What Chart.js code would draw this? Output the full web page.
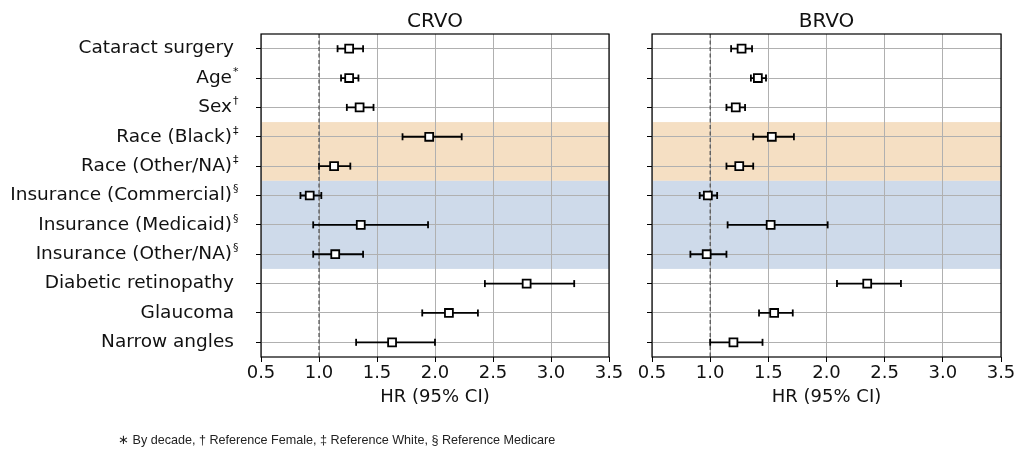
<!DOCTYPE html>
<html>
<head>
<meta charset="utf-8">
<script src="https://cdn.jsdelivr.net/npm/chart.js@4.4.0/dist/chart.umd.min.js"></script>
<style>
  body { margin: 0; background: #fff; width: 1017px; height: 451px; overflow: hidden; position: relative; }
  .panel { position: absolute; top: 0; height: 451px; }
  #note { position: absolute; left: 118px; top: 432px; font: 12.6px "Liberation Sans", Arial, sans-serif; color: #222; white-space: nowrap; }
</style>
</head>
<body>
<div class="panel" style="left:0;width:625px"><canvas id="crvoChart"></canvas></div>
<div class="panel" style="left:625px;width:392px"><canvas id="brvoChart"></canvas></div>
<div id="note">∗ By decade, † Reference Female, ‡ Reference White, § Reference Medicare</div>
<script>
// Row labels (top to bottom) and their footnote marks
const rows = [
  "Cataract surgery", "Age", "Sex", "Race (Black)", "Race (Other/NA)",
  "Insurance (Commercial)", "Insurance (Medicaid)", "Insurance (Other/NA)",
  "Diabetic retinopathy", "Glaucoma", "Narrow angles"
];
const rowMarks = ["", "*", "†", "‡", "‡", "§", "§", "§", "", "", ""];

// CRVO hazard ratios and 95% CI
const crvoHR   = [1.26, 1.26, 1.35, 1.95, 1.13, 0.92, 1.36, 1.14, 2.79, 2.12, 1.63];
const crvoLow  = [1.16, 1.19, 1.24, 1.72, 1.00, 0.84, 0.95, 0.95, 2.43, 1.89, 1.32];
const crvoHigh = [1.38, 1.34, 1.47, 2.23, 1.27, 1.02, 1.94, 1.38, 3.20, 2.37, 2.00];

// BRVO hazard ratios and 95% CI
const brvoHR   = [1.27, 1.41, 1.22, 1.53, 1.25, 0.98, 1.52, 0.97, 2.35, 1.55, 1.20];
const brvoLow  = [1.18, 1.35, 1.14, 1.37, 1.14, 0.91, 1.15, 0.83, 2.09, 1.42, 1.00];
const brvoHigh = [1.36, 1.48, 1.30, 1.72, 1.37, 1.06, 2.01, 1.14, 2.64, 1.71, 1.45];

const xTicks = [0.5, 1.0, 1.5, 2.0, 2.5, 3.0, 3.5];
const refLine = 1.0;

// shaded row groups
const raceRows = [3, 4];
const insuranceRows = [5, 6, 7];

const FONT = "'DejaVu Sans', sans-serif";

// bands, frame, panel title and row labels
const panelDecor = {
  id: "panelDecor",
  beforeDraw(chart, args, opts) {
    const { ctx, chartArea: a, scales: { y } } = chart;
    const band = (list, color) => {
      const top = y.getPixelForValue(list[0] - 0.5);
      const bot = y.getPixelForValue(list[list.length - 1] + 0.5);
      ctx.fillStyle = color;
      ctx.fillRect(a.left, top, a.right - a.left, bot - top);
    };
    ctx.save();
    band(raceRows, "#f5dfc3");
    band(insuranceRows, "#cedaea");
    ctx.restore();
  },
  afterDraw(chart, args, opts) {
    const { ctx, chartArea: a, scales: { y } } = chart;
    ctx.save();
    ctx.strokeStyle = "#000";
    ctx.lineWidth = 1.2;
    ctx.strokeRect(a.left, a.top, a.right - a.left, a.bottom - a.top);

    ctx.fillStyle = "#111";
    ctx.font = "20px " + FONT;
    ctx.textAlign = "center";
    ctx.textBaseline = "alphabetic";
    ctx.fillText(opts.title, (a.left + a.right) / 2, 27);

    if (opts.labels) {
      const right = a.left - 27;
      rows.forEach((name, i) => {
        const py = y.getPixelForValue(i);
        const mark = rowMarks[i];
        ctx.textBaseline = "middle";
        ctx.font = "18.5px " + FONT;
        ctx.textAlign = "right";
        const end = mark ? right - 2 : right;
        ctx.fillText(name, end, py);
        if (mark) {
          ctx.font = "11px " + FONT;
          ctx.textAlign = "left";
          ctx.fillText(mark, end + 1, py - 6);
        }
      });
    }
    ctx.restore();
  }
};

function forestConfig(hr, low, high, title, yWidth, withLabels) {
  const ciLines = [];
  rows.forEach((_, i) => {
    ciLines.push({ x: low[i], y: i }, { x: high[i], y: i }, { x: null, y: i });
  });
  const caps = [];
  rows.forEach((_, i) => {
    caps.push({ x: low[i], y: i }, { x: high[i], y: i });
  });
  return {
    type: "scatter",
    data: {
      datasets: [
        {
          data: hr.map((v, i) => ({ x: v, y: i })),
          pointStyle: "rect",
          pointRadius: 5.6,
          backgroundColor: "#fff",
          borderColor: "#000",
          borderWidth: 1.8,
          order: 0
        },
        {
          data: caps,
          pointStyle: "line",
          rotation: 90,
          pointRadius: 3.5,
          borderColor: "#000",
          borderWidth: 1.8,
          order: 1
        },
        {
          data: ciLines,
          showLine: true,
          spanGaps: false,
          pointRadius: 0,
          borderColor: "#000",
          borderWidth: 1.8,
          order: 2
        },
        {
          data: [{ x: refLine, y: -0.5 }, { x: refLine, y: rows.length - 0.5 }],
          showLine: true,
          pointRadius: 0,
          borderColor: "#444",
          borderWidth: 1.1,
          borderDash: [4, 2.5],
          order: 3
        }
      ]
    },
    options: {
      responsive: true,
      maintainAspectRatio: false,
      animation: false,
      events: [],
      layout: { padding: { top: 34, right: 16, bottom: 43, left: 0 } },
      plugins: {
        legend: { display: false },
        tooltip: { enabled: false },
        panelDecor: { title: title, labels: withLabels }
      },
      scales: {
        x: {
          type: "linear",
          min: xTicks[0],
          max: xTicks[xTicks.length - 1],
          afterBuildTicks: s => { s.ticks = xTicks.map(v => ({ value: v })); },
          afterFit: s => { s.height = 51; },
          grid: { color: "#b0b0b0", lineWidth: 1, tickLength: 5, tickColor: "#000" },
          border: { display: false },
          ticks: {
            padding: 1,
            color: "#111",
            font: { family: FONT, size: 18 },
            callback: v => Number(v).toFixed(1)
          },
          title: {
            display: true,
            text: "HR (95% CI)",
            color: "#111",
            padding: 0,
            font: { family: FONT, size: 18 }
          }
        },
        y: {
          type: "linear",
          reverse: true,
          min: -0.5,
          max: rows.length - 0.5,
          afterBuildTicks: s => { s.ticks = rows.map((_, i) => ({ value: i })); },
          afterFit: s => { s.width = yWidth; },
          grid: { color: "#b0b0b0", lineWidth: 1, tickLength: 5, tickColor: "#000" },
          border: { display: false },
          ticks: { display: false }
        }
      }
    },
    plugins: [panelDecor]
  };
}

new Chart(document.getElementById("crvoChart"),
  forestConfig(crvoHR, crvoLow, crvoHigh, "CRVO", 261, true));
new Chart(document.getElementById("brvoChart"),
  forestConfig(brvoHR, brvoLow, brvoHigh, "BRVO", 27, false));
</script>
</body>
</html>
